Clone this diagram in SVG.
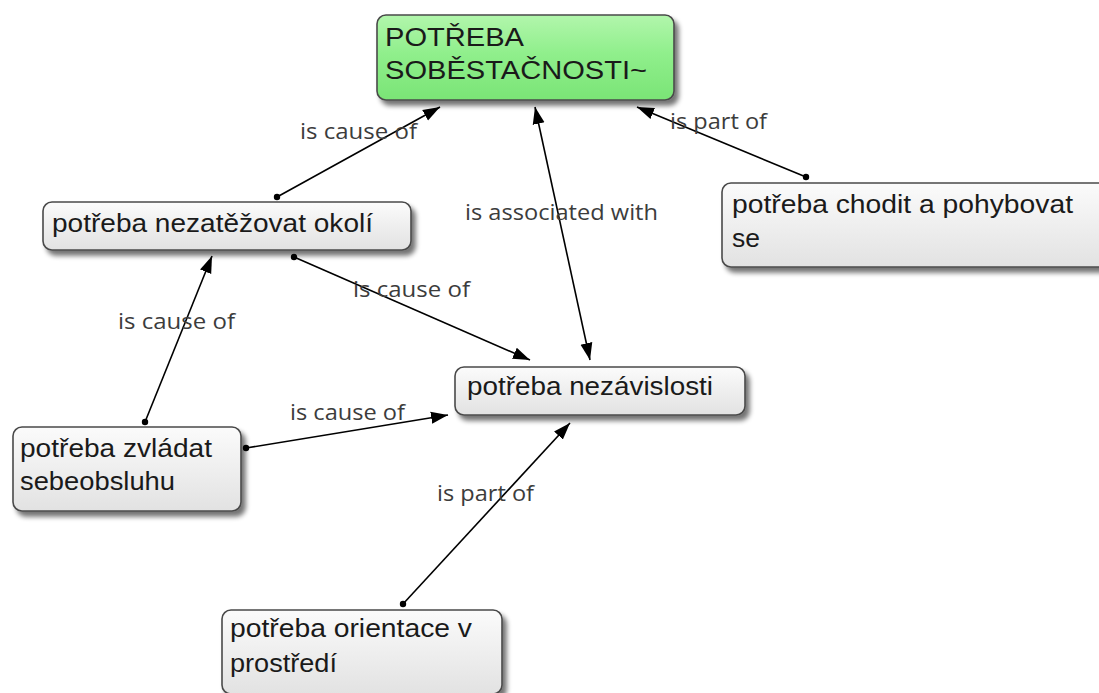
<svg xmlns="http://www.w3.org/2000/svg" width="1099" height="693" viewBox="0 0 1099 693">
  <defs>
    <linearGradient id="gGreen" x1="0" y1="0" x2="0" y2="1">
      <stop offset="0" stop-color="#b2f6ac"/>
      <stop offset="0.45" stop-color="#90ef8c"/>
      <stop offset="1" stop-color="#7ae476"/>
    </linearGradient>
    <linearGradient id="gGray" x1="0" y1="0" x2="0" y2="1">
      <stop offset="0" stop-color="#fbfbfb"/>
      <stop offset="1" stop-color="#e2e2e2"/>
    </linearGradient>
    <filter id="shadow" x="-10%" y="-20%" width="125%" height="150%">
      <feGaussianBlur in="SourceAlpha" stdDeviation="2.5"/>
      <feOffset dx="4" dy="5" result="b"/>
      <feComponentTransfer><feFuncA type="linear" slope="0.55"/></feComponentTransfer>
      <feMerge><feMergeNode/><feMergeNode in="SourceGraphic"/></feMerge>
    </filter>
    <marker id="arrow" markerUnits="userSpaceOnUse" markerWidth="18" markerHeight="14" viewBox="0 0 18 14" refX="17" refY="7" orient="auto-start-reverse">
      <path d="M0,1 L17,7 L0,13 Z" fill="#000"/>
    </marker>
    <marker id="dot" markerUnits="userSpaceOnUse" markerWidth="8" markerHeight="8" viewBox="0 0 8 8" refX="4" refY="4">
      <circle cx="4" cy="4" r="3.2" fill="#000"/>
    </marker>
  </defs>
  <style>
    .box { stroke: #4a4a4a; stroke-width: 1.6; filter: url(#shadow); }
    .gray { fill: url(#gGray); }
    .green { fill: url(#gGreen); }
    .txt { font-family: "Liberation Sans", Arial, sans-serif; font-size: 25px; fill: #1a1a1a; }
    .big { font-size: 26px; }
    .lbl { font-family: "Open Sans", "DejaVu Sans", sans-serif; font-size: 21px; fill: #3c3c3c; }
    .edge { stroke: #000; stroke-width: 1.6; fill: none; }
    .fwd { marker-start: url(#dot); marker-end: url(#arrow); }
    .both { marker-start: url(#arrow); marker-end: url(#arrow); }
  </style>

  <rect width="1099" height="693" fill="#ffffff"/>

  <!-- connectors and their labels -->
  <g id="connectors">
    <line class="edge fwd" x1="277" y1="197" x2="440" y2="107"/>
    <text class="lbl" x="300" y="139" textLength="117" lengthAdjust="spacingAndGlyphs">is cause of</text>

    <line class="edge both" x1="535" y1="107" x2="590" y2="360"/>
    <text class="lbl" x="465" y="220" textLength="193" lengthAdjust="spacingAndGlyphs">is associated with</text>

    <line class="edge fwd" x1="806" y1="177" x2="637" y2="107"/>
    <text class="lbl" x="670" y="129" textLength="97" lengthAdjust="spacingAndGlyphs">is part of</text>

    <line class="edge fwd" x1="294" y1="257" x2="530" y2="360"/>
    <text class="lbl" x="353" y="297" textLength="117" lengthAdjust="spacingAndGlyphs">is cause of</text>

    <line class="edge fwd" x1="145" y1="422" x2="212" y2="256"/>
    <text class="lbl" x="118" y="329" textLength="117" lengthAdjust="spacingAndGlyphs">is cause of</text>

    <line class="edge fwd" x1="246" y1="448" x2="448" y2="415"/>
    <text class="lbl" x="290" y="420" textLength="115" lengthAdjust="spacingAndGlyphs">is cause of</text>

    <line class="edge fwd" x1="403" y1="604" x2="570" y2="423"/>
    <text class="lbl" x="437" y="501" textLength="97" lengthAdjust="spacingAndGlyphs">is part of</text>
  </g>

  <!-- concept nodes -->
  <g id="n-sobestacnost">
    <rect class="box green" x="377" y="15" width="297" height="85" rx="9"/>
    <text class="txt big" x="385" y="46" textLength="139" lengthAdjust="spacingAndGlyphs">POTŘEBA</text>
    <text class="txt big" x="385" y="79" textLength="262" lengthAdjust="spacingAndGlyphs">SOBĚSTAČNOSTI~</text>
  </g>

  <g id="n-okoli">
    <rect class="box gray" x="43" y="202" width="368" height="48" rx="9"/>
    <text class="txt" x="52" y="232" textLength="321" lengthAdjust="spacingAndGlyphs">potřeba nezatěžovat okolí</text>
  </g>

  <g id="n-pohyb">
    <rect class="box gray" x="722" y="183" width="400" height="84" rx="9"/>
    <text class="txt" x="732" y="213" textLength="341" lengthAdjust="spacingAndGlyphs">potřeba chodit a pohybovat</text>
    <text class="txt" x="732" y="247" textLength="28" lengthAdjust="spacingAndGlyphs">se</text>
  </g>

  <g id="n-nezavislost">
    <rect class="box gray" x="455" y="367" width="290" height="48" rx="9"/>
    <text class="txt" x="467" y="395" textLength="246" lengthAdjust="spacingAndGlyphs">potřeba nezávislosti</text>
  </g>

  <g id="n-sebeobsluha">
    <rect class="box gray" x="13" y="427" width="228" height="84" rx="9"/>
    <text class="txt" x="20" y="457" textLength="192" lengthAdjust="spacingAndGlyphs">potřeba zvládat</text>
    <text class="txt" x="20" y="490" textLength="155" lengthAdjust="spacingAndGlyphs">sebeobsluhu</text>
  </g>

  <g id="n-orientace">
    <rect class="box gray" x="222" y="610" width="280" height="84" rx="9"/>
    <text class="txt" x="230" y="637" textLength="242" lengthAdjust="spacingAndGlyphs">potřeba orientace v</text>
    <text class="txt" x="230" y="672" textLength="107" lengthAdjust="spacingAndGlyphs">prostředí</text>
  </g>
</svg>
